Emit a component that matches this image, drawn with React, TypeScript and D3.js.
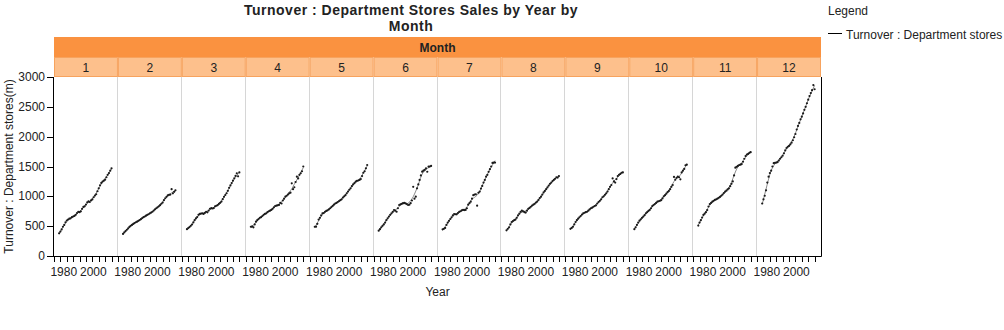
import React from "react";
import * as d3 from "d3";

const months = ["1", "2", "3", "4", "5", "6", "7", "8", "9", "10", "11", "12"];
const years = [
  1974, 1975, 1976, 1977, 1978, 1979, 1980, 1981, 1982, 1983, 1984, 1985, 1986, 1987,
  1988, 1989, 1990, 1991, 1992, 1993, 1994, 1995, 1996, 1997, 1998, 1999, 2000, 2001,
  2002, 2003, 2004, 2005, 2006, 2007, 2008, 2009, 2010, 2011, 2012, 2013, 2014, 2015,
];

const jan = [380, 410, 445, 490, 520, 565, 595, 612, 625, 632, 650, 662, 672, 690, 720, 740, 735, 748, 790, 822, 832, 862, 900, 915, 905, 932, 948, 985, 1012, 1035, 1085, 1135, 1185, 1225, 1248, 1262, 1280, 1320, 1360, 1390, 1430, 1470];
const feb = [370, 395, 418, 440, 462, 488, 505, 520, 538, 552, 566, 576, 590, 602, 618, 635, 650, 662, 676, 690, 700, 716, 728, 742, 762, 782, 800, 816, 832, 852, 876, 896, 935, 968, 992, 1015, 1025, 1030, 1120, 1050, 1075, 1100];
const mar = [450, 468, 485, 505, 528, 562, 600, 630, 652, 690, 705, 712, 716, 706, 722, 742, 732, 762, 792, 802, 796, 804, 832, 842, 852, 872, 892, 912, 952, 992, 1022, 1052, 1092, 1142, 1182, 1222, 1262, 1302, 1342, 1385, 1335, 1400];
const apr = [490, 495, 480, 530, 575, 600, 620, 640, 650, 670, 690, 705, 715, 735, 750, 760, 772, 790, 815, 838, 845, 850, 856, 892, 880, 930, 960, 995, 1010, 1030, 1050, 1062, 1218, 1120, 1152, 1240, 1330, 1300, 1360, 1387, 1420, 1500];
const may = [490, 492, 540, 610, 640, 680, 715, 720, 740, 755, 765, 780, 800, 820, 840, 860, 880, 890, 905, 920, 935, 950, 980, 1000, 1020, 1050, 1080, 1110, 1135, 1170, 1200, 1220, 1245, 1260, 1265, 1275, 1290, 1340, 1395, 1420, 1470, 1525];
const jun = [425, 450, 480, 505, 530, 560, 600, 632, 660, 690, 715, 740, 770, 760, 742, 800, 855, 865, 875, 885, 890, 882, 870, 855, 860, 885, 930, 1160, 960, 995, 1135, 1200, 1275, 1350, 1413, 1430, 1445, 1470, 1412, 1497, 1500, 1510];
const jul = [447, 455, 470, 520, 560, 590, 620, 648, 680, 704, 700, 698, 720, 740, 750, 765, 772, 770, 772, 800, 860, 885, 910, 960, 1020, 1030, 1035, 843, 1060, 1080, 1130, 1175, 1230, 1275, 1330, 1360, 1410, 1455, 1500, 1560, 1565, 1565];
const aug = [430, 455, 480, 530, 570, 585, 600, 610, 640, 680, 710, 740, 760, 750, 735, 728, 760, 790, 805, 825, 845, 860, 875, 895, 912, 940, 970, 995, 1030, 1065, 1090, 1120, 1150, 1180, 1210, 1230, 1255, 1275, 1295, 1320, 1315, 1340];
const sep = [455, 470, 490, 530, 570, 600, 625, 648, 670, 695, 715, 725, 735, 742, 760, 780, 800, 810, 825, 838, 850, 880, 905, 925, 950, 985, 1000, 1025, 1050, 1080, 1120, 1160, 1190, 1300, 1250, 1230, 1290, 1340, 1360, 1375, 1395, 1400];
const oct = [450, 480, 520, 560, 592, 615, 640, 660, 685, 715, 735, 755, 772, 800, 835, 855, 870, 890, 910, 918, 925, 935, 965, 1000, 1020, 1045, 1070, 1090, 1120, 1160, 1190, 1325, 1280, 1310, 1330, 1320, 1285, 1400, 1430, 1460, 1520, 1530];
const nov = [510, 560, 600, 645, 688, 710, 735, 770, 830, 870, 890, 910, 925, 940, 950, 960, 975, 990, 1010, 1030, 1055, 1078, 1095, 1115, 1135, 1170, 1210, 1250, 1350, 1480, 1495, 1510, 1525, 1530, 1540, 1580, 1630, 1675, 1700, 1710, 1730, 1740];
const dec = [880, 950, 1010, 1100, 1230, 1330, 1390, 1430, 1500, 1555, 1562, 1566, 1572, 1600, 1630, 1655, 1680, 1720, 1770, 1810, 1830, 1845, 1870, 1900, 1940, 1990, 2045, 2120, 2180, 2230, 2290, 2335, 2390, 2450, 2500, 2560, 2620, 2680, 2730, 2780, 2865, 2795];

const yTicks = [0, 500, 1000, 1500, 2000, 2500, 3000];
const xTickYears = [1970, 1975, 1980, 1985, 1990, 1995, 2000, 2005, 2010, 2015];
const xLabelYears = [1980, 2000];

const seriesByMonth = [jan, feb, mar, apr, may, jun, jul, aug, sep, oct, nov, dec];

const FONT = "'Liberation Sans', Arial, sans-serif";

// local linear (loess-like) smoother computed from the data
function smooth(xs: number[], ys: number[], span: number) {
  const n = xs.length;
  const k = Math.max(3, Math.ceil(span * n));
  return xs.map((x0) => {
    const d = xs.map((x) => Math.abs(x - x0));
    const sorted = [...d].sort((a, b) => a - b);
    const maxd = sorted[k - 1] * 1.0001 || 1;
    let sw = 0, sx = 0, sy = 0, sxx = 0, sxy = 0;
    for (let i = 0; i < n; i++) {
      const u = d[i] / maxd;
      if (u >= 1) continue;
      const w = Math.pow(1 - u * u * u, 3);
      sw += w; sx += w * xs[i]; sy += w * ys[i];
      sxx += w * xs[i] * xs[i]; sxy += w * xs[i] * ys[i];
    }
    const mx = sx / sw, my = sy / sw;
    const vx = sxx / sw - mx * mx;
    const b = vx > 1e-9 ? (sxy / sw - mx * my) / vx : 0;
    return my + b * (x0 - mx);
  });
}

export default function App() {
  const W = 1004, H = 330;
  const left = 54, right = 821, top = 77, bottom = 256;
  const hdrTop = 37, hdrMid = 57;

  const panel = d3.scaleBand<string>().domain(months).range([left, right]).paddingInner(0).paddingOuter(0);
  const bw = panel.bandwidth();
  const x = d3.scaleLinear().domain([1970, 2020]).range([0, bw]);
  const y = d3.scaleLinear().domain([0, 3000]).range([bottom, top]);

  const line = d3
    .line<[number, number]>()
    .x((d) => x(d[0]))
    .y((d) => y(d[1]))
    .curve(d3.curveMonotoneX);

  return (
    <svg
      width={W}
      height={H}
      style={{ position: "absolute", left: 0, top: 0, background: "#fff" }}
      fontFamily={FONT}
    >
      {/* Title */}
      <text x={411} y={15} textAnchor="middle" fontSize={14} fontWeight="bold" fill="#222" letterSpacing={0.5}>
        Turnover : Department Stores Sales by Year by
      </text>
      <text x={411} y={31} textAnchor="middle" fontSize={14} fontWeight="bold" fill="#222" letterSpacing={0.5}>
        Month
      </text>

      {/* Header bars */}
      <rect x={left} y={hdrTop} width={right - left} height={hdrMid - hdrTop} fill="#FA9240" />
      <text x={(left + right) / 2} y={52} textAnchor="middle" fontSize={12} fontWeight="bold" fill="#222">
        Month
      </text>
      {months.map((m) => (
        <g key={"h" + m}>
          <rect
            x={(panel(m) as number) + 0.5}
            y={hdrMid + 0.5}
            width={bw - 1}
            height={top - hdrMid - 1}
            fill="#FDC08C"
            stroke="#F7A35E"
            strokeWidth={1}
          />
          <text x={(panel(m) as number) + bw / 2} y={72} textAnchor="middle" fontSize={12} fill="#222">
            {m}
          </text>
        </g>
      ))}

      {/* Panel separators */}
      {months.slice(1).map((m) => (
        <line
          key={"g" + m}
          x1={Math.round(panel(m) as number) - 0.5}
          x2={Math.round(panel(m) as number) - 0.5}
          y1={top}
          y2={bottom}
          stroke="#d6d6d6"
        />
      ))}

      {/* Data */}
      {months.map((m, i) => {
        const vals = seriesByMonth[i];
        const fit = smooth(years, vals, 0.25);
        const pts: [number, number][] = years.map((yr, j) => [yr, fit[j]]);
        const px = panel(m) as number;
        return (
          <g key={"p" + m} transform={`translate(${px},0)`}>
            <path d={line(pts) || ""} fill="none" stroke="#8a8a8a" strokeWidth={1} />
            {years.map((yr, j) => (
              <circle key={yr} cx={x(yr)} cy={y(vals[j])} r={1.1} fill="#1a1a1a" />
            ))}
          </g>
        );
      })}

      {/* Axes frame */}
      <line x1={left - 0.5} x2={left - 0.5} y1={top} y2={bottom + 0.5} stroke="#000" />
      <line x1={right + 0.5} x2={right + 0.5} y1={top} y2={bottom + 0.5} stroke="#000" />
      <line x1={left - 0.5} x2={right + 0.5} y1={bottom + 0.5} y2={bottom + 0.5} stroke="#000" />

      {/* Y ticks */}
      {yTicks.map((t) => (
        <g key={"y" + t}>
          <line x1={left - 7} x2={left} y1={Math.round(y(t)) + 0.5} y2={Math.round(y(t)) + 0.5} stroke="#000" />
          <text x={left - 9} y={y(t) + 4} textAnchor="end" fontSize={12} fill="#222">
            {t}
          </text>
        </g>
      ))}

      {/* X ticks per panel */}
      {months.map((m) => {
        const px = panel(m) as number;
        return (
          <g key={"x" + m} transform={`translate(${px},0)`}>
            {xTickYears.map((t) => (
              <line
                key={t}
                x1={Math.round(x(t) + px) - px + 0.5}
                x2={Math.round(x(t) + px) - px + 0.5}
                y1={bottom}
                y2={bottom + 6}
                stroke="#000"
              />
            ))}
            {xLabelYears.map((t) => (
              <text
                key={"l" + t}
                x={x(t) + (t === 1980 ? -3 : 1)}
                y={276}
                textAnchor="middle"
                fontSize={12}
                fill="#222"
              >
                {t}
              </text>
            ))}
          </g>
        );
      })}

      {/* Axis titles */}
      <text x={(left + right) / 2} y={296} textAnchor="middle" fontSize={12} fill="#222">
        Year
      </text>
      <text
        transform={`translate(13,${(top + bottom) / 2}) rotate(-90)`}
        textAnchor="middle"
        fontSize={12}
        fill="#222"
      >
        Turnover : Department stores(m)
      </text>

      {/* Legend */}
      <text x={828} y={15} fontSize={12} fill="#222">
        Legend
      </text>
      <line x1={828} x2={842} y1={33.5} y2={33.5} stroke="#000" />
      <text x={846} y={39} fontSize={12} fill="#222">
        Turnover : Department stores
      </text>
    </svg>
  );
}
